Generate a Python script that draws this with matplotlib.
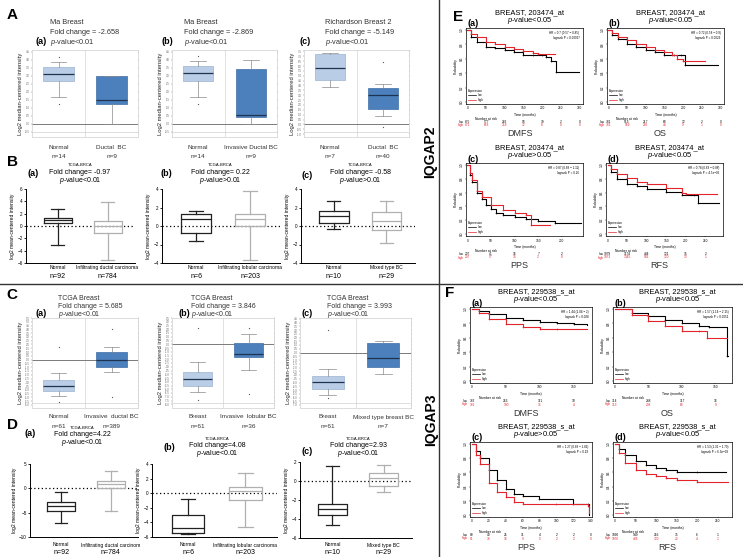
import matplotlib
matplotlib.use("Agg")
import matplotlib.pyplot as plt
from matplotlib.lines import Line2D
from matplotlib.transforms import blended_transform_factory

W, H = 743, 557

plt.rcParams['font.family'] = ['Liberation Sans', 'DejaVu Sans']
plt.rcParams['mathtext.fontset'] = 'custom'
plt.rcParams['mathtext.it'] = 'Liberation Sans:italic'
plt.rcParams['mathtext.rm'] = 'Liberation Sans'

# ---- box plot stats: [whisker low, q1, median, q3, whisker high] ----
# A (Oncomine)
A_a_normal = [1.63, 2.66, 3.08, 3.56, 3.87]
A_a_normal_out = [4.18, 1.25]
A_a_cancer = [-0.04, 1.25, 1.5, 2.97, 3.0]
A_a_cancer_out = []
A_b_normal = [1.67, 2.68, 3.14, 3.62, 3.93]
A_b_normal_out = [4.2, 1.25]
A_b_cancer = [-0.04, 0.38, 0.56, 3.39, 4.0]
A_b_cancer_out = []
A_c_normal = [3.8, 4.55, 5.76, 7.2, 7.3]
A_c_normal_out = []
A_c_cancer = [0.83, 1.62, 3.07, 3.69, 4.14]
A_c_cancer_out = [6.4, -0.28]

# B (TCGA-BRCA)
B_a_normal = [-3.1, 0.43, 0.92, 1.36, 2.7]
B_a_cancer = [-5.5, -1.2, 0.0, 0.82, 3.86]
B_b_normal = [-1.6, -0.72, 0.8, 1.3, 1.63]
B_b_cancer = [-3.7, -0.05, 0.76, 1.3, 3.73]
B_c_normal = [-0.28, 0.31, 1.04, 1.57, 2.68]
B_c_cancer = [-1.86, -0.48, 0.52, 1.48, 2.72]

# C (Oncomine)
C_a_normal = [-4.83, -4.13, -3.43, -2.7, -1.83]
C_a_normal_out = [1.65, -5.65]
C_a_cancer = [-1.65, -0.96, 0.0, 0.96, 1.7]
C_a_cancer_out = [4.04, -5.0]
C_b_normal = [-6.39, -5.52, -4.65, -3.65, -2.43]
C_b_normal_out = [2.17, -7.48]
C_b_cancer = [-3.48, -1.74, -1.26, 0.13, 1.43]
C_b_cancer_out = [2.17, -6.6]
C_c_normal = [-5.6, -4.87, -3.9, -3.13, -2.26]
C_c_normal_out = [2.96, -6.04]
C_c_cancer = [-2.9, -1.91, -0.74, 1.3, 1.5]
C_c_cancer_out = []

# D (TCGA-BRCA)
D_a_normal = [-7.03, -4.73, -3.65, -2.84, -0.74]
D_a_cancer = [-4.73, 0.0, 0.81, 1.49, 3.51]
D_b_normal = [-5.64, -5.5, -4.82, -2.98, -0.83]
D_b_cancer = [-4.68, -0.92, 0.3, 0.83, 2.75]
D_c_normal = [-4.65, -3.6, -2.9, -2.4, 1.6]
D_c_cancer = [-1.2, -0.52, 0.28, 0.8, 1.65]

# ---- Kaplan-Meier curves (time in months, survival probability) ----
E_a_low_t = [0, 10, 25, 50, 75, 100, 125, 150, 175, 200, 212, 225, 237, 300]
E_a_low_s = [1.0, 0.9, 0.83, 0.77, 0.75, 0.72, 0.70, 0.66, 0.66, 0.66, 0.62, 0.57, 0.42, 0.42]
E_a_high_t = [0, 10, 25, 50, 75, 100, 125, 150, 175, 190, 235]
E_a_high_s = [1.0, 0.95, 0.9, 0.84, 0.81, 0.77, 0.74, 0.71, 0.68, 0.67, 0.67]
E_b_low_t = [0, 10, 25, 50, 75, 100, 125, 150, 175, 195, 205, 295]
E_b_low_s = [1.0, 0.93, 0.87, 0.81, 0.76, 0.72, 0.69, 0.66, 0.65, 0.65, 0.52, 0.52]
E_b_high_t = [0, 10, 25, 50, 75, 100, 125, 150, 170, 185, 200, 260]
E_b_high_s = [1.0, 0.96, 0.91, 0.86, 0.81, 0.77, 0.73, 0.70, 0.66, 0.60, 0.57, 0.57]
E_c_low_t = [0, 5, 10, 20, 30, 40, 50, 60, 75, 100, 125, 150, 185, 240]
E_c_low_s = [1.0, 0.85, 0.75, 0.60, 0.50, 0.42, 0.36, 0.31, 0.27, 0.24, 0.22, 0.19, 0.16, 0.16]
E_c_high_t = [0, 5, 10, 20, 30, 50, 75, 100, 125, 135, 175]
E_c_high_s = [1.0, 0.88, 0.78, 0.63, 0.53, 0.42, 0.35, 0.31, 0.27, 0.13, 0.13]
E_d_low_t = [0, 10, 25, 50, 75, 100, 150, 190, 220, 230, 285]
E_d_low_s = [1.0, 0.9, 0.8, 0.73, 0.69, 0.65, 0.61, 0.57, 0.57, 0.45, 0.45]
E_d_high_t = [0, 10, 25, 50, 75, 100, 150, 190, 200, 280]
E_d_high_s = [1.0, 0.94, 0.87, 0.81, 0.76, 0.72, 0.66, 0.60, 0.58, 0.58]

F_a_low_t = [0, 10, 25, 50, 75, 100, 125, 150, 170]
F_a_low_s = [1.0, 0.97, 0.93, 0.88, 0.85, 0.82, 0.80, 0.79, 0.78]
F_a_high_t = [0, 10, 25, 50, 75, 100, 125, 170]
F_a_high_s = [1.0, 0.94, 0.86, 0.79, 0.75, 0.73, 0.72, 0.72]
F_b_low_t = [0, 25, 50, 75, 100, 125, 140, 167, 169]
F_b_low_s = [1.0, 0.95, 0.90, 0.85, 0.80, 0.77, 0.75, 0.35, 0.35]
F_b_high_t = [0, 25, 50, 75, 100, 125, 138, 168]
F_b_high_s = [1.0, 0.92, 0.84, 0.76, 0.70, 0.69, 0.60, 0.60]
F_c_low_t = [0, 5, 10, 20, 30, 40, 50, 60, 80, 120, 137, 138]
F_c_low_s = [1.0, 0.9, 0.8, 0.63, 0.50, 0.37, 0.30, 0.27, 0.23, 0.16, 0.16, 0.0]
F_c_high_t = [0, 5, 10, 20, 30, 40, 50, 60, 100, 137, 138]
F_c_high_s = [1.0, 0.85, 0.72, 0.45, 0.33, 0.25, 0.18, 0.15, 0.15, 0.13, 0.03]
F_d_low_t = [0, 10, 25, 50, 75, 100, 125, 150, 200, 270]
F_d_low_s = [1.0, 0.93, 0.84, 0.76, 0.70, 0.66, 0.63, 0.61, 0.60, 0.60]
F_d_high_t = [0, 10, 25, 50, 75, 100, 125, 150, 200, 275]
F_d_high_s = [1.0, 0.87, 0.74, 0.64, 0.58, 0.55, 0.52, 0.50, 0.47, 0.46]

# numbers at risk
E_a_risk_low = [875, 577, 282, 93, 19, 2, 0]
E_a_risk_high = [871, 663, 318, 72, 8, 0, 0]
E_b_risk_low = [781, 515, 217, 69, 12, 2, 0]
E_b_risk_high = [781, 569, 266, 43, 9, 1, 0]
E_c_risk_low = [207, 41, 16, 7, 2]
E_c_risk_high = [207, 57, 15, 2, 0]
E_d_risk_low = [1979, 1174, 484, 121, 15, 2]
E_d_risk_high = [1973, 1345, 581, 120, 13, 1]
F_a_risk_low = [332, 253, 111, 10]
F_a_risk_high = [332, 190, 76, 4]
F_b_risk_low = [314, 248, 117, 16]
F_b_risk_high = [313, 208, 64, 9]
F_c_risk_low = [80, 49, 25, 11, 4, 2, 2, 0]
F_c_risk_high = [81, 33, 16, 9, 5, 2, 2, 0]
F_d_risk_low = [1090, 549, 216, 35, 6, 1]
F_d_risk_high = [1076, 428, 120, 23, 4, 1]

fig = plt.figure(figsize=(7.43, 5.57), dpi=100)
fig.patch.set_facecolor('white')


def px_axes(box):
    x0, y0, x1, y1 = box
    return fig.add_axes([x0 / W, 1 - y1 / H, (x1 - x0) / W, (y1 - y0) / H])


def ftext(x, y, s, **kw):
    kw.setdefault('ha', 'center')
    kw.setdefault('va', 'center')
    fig.text(x / W, 1 - y / H, s, **kw)


def make_stats(vals, outs):
    return dict(whislo=vals[0], q1=vals[1], med=vals[2], q3=vals[3], whishi=vals[4], fliers=outs)


def oncomine_panel(box, normal, normal_out, cancer, cancer_out, ylim, yticks, xlabels, y_lab, y_n):
    ax = px_axes(box)
    stats = [make_stats(normal, normal_out), make_stats(cancer, cancer_out)]
    bp = ax.bxp(stats, positions=[1, 2], widths=0.58, capwidths=0.3, patch_artist=True,
                boxprops=dict(linewidth=0.5),
                medianprops=dict(color='#1d3350', linewidth=0.9),
                whiskerprops=dict(color='#8a8a8a', linewidth=0.5),
                capprops=dict(color='#8a8a8a', linewidth=0.5),
                flierprops=dict(marker='o', markersize=0.9, markerfacecolor='#555',
                                markeredgecolor='none'))
    bp['boxes'][0].set(facecolor='#b9cde6', edgecolor='#9db3cf')
    bp['boxes'][1].set(facecolor='#4c80bd', edgecolor='#3e6ea6')
    ax.axhline(0, color='#7a7a7a', lw=0.7, zorder=1)
    ax.axvline(1.5, color='#d5d5d5', lw=0.5, zorder=0)
    ax.axhline(ylim[0] + 0.06 * (ylim[1] - ylim[0]), color='#d0d0d0', lw=0.5, zorder=0)
    ax.set_xlim(0.5, 2.5)
    ax.set_ylim(ylim)
    ax.set_yticks(yticks)
    ax.set_yticklabels(['%.1f' % t for t in yticks])
    ax.tick_params(axis='y', labelsize=2.0, length=1, width=0.3, pad=0.8, colors='#666', right=True)
    ax.set_xticks([])
    for sp in ax.spines.values():
        sp.set_color('#cfcfcf')
        sp.set_linewidth(0.5)
    ax.set_ylabel('Log2 median-centered intensity', fontsize=4.2, labelpad=1.5, color='#222')
    tr = blended_transform_factory(ax.transData, fig.transFigure)
    for pos, lab in zip([1, 2], xlabels):
        ax.text(pos, 1 - y_lab / H, lab[0], transform=tr, ha='center', va='center', fontsize=4.6, color='#333')
        ax.text(pos, 1 - y_n / H, lab[1], transform=tr, ha='center', va='center', fontsize=4.6, color='#333')
    return ax


def graphpad_panel(box, normal, cancer, ylim, yticks, xlabels, y_lab, y_n):
    ax = px_axes(box)
    stats = [make_stats(normal, []), make_stats(cancer, [])]
    bp = ax.bxp(stats, positions=[1, 2], widths=0.56, capwidths=0.25, showfliers=False,
                boxprops=dict(linewidth=0.9), medianprops=dict(linewidth=0.9),
                whiskerprops=dict(linewidth=0.9), capprops=dict(linewidth=0.9))
    colors = ['#222222', '#b0b0b0']
    for i, c in enumerate(colors):
        bp['boxes'][i].set_color(c)
        bp['medians'][i].set_color(c)
        for k in (2 * i, 2 * i + 1):
            bp['whiskers'][k].set_color(c)
            bp['caps'][k].set_color(c)
    ax.axhline(0, color='k', lw=0.9, ls=(0, (1, 2)), zorder=0)
    ax.set_xlim(0.37, 2.55)
    ax.set_ylim(ylim)
    ax.set_yticks(yticks)
    ax.set_xticks([])
    ax.spines['top'].set_visible(False)
    ax.spines['right'].set_visible(False)
    ax.spines['left'].set_linewidth(0.7)
    ax.spines['bottom'].set_linewidth(0.7)
    ax.tick_params(axis='y', labelsize=3.3, length=1.5, width=0.6, pad=0.8)
    ax.set_ylabel('log2 mean-centered intensity', fontsize=3.6, labelpad=1.5)
    tr = blended_transform_factory(ax.transData, fig.transFigure)
    for pos, lab in zip([1, 2], xlabels):
        ax.text(pos, 1 - y_lab / H, lab[0], transform=tr, ha='center', va='center', fontsize=3.6)
        ax.text(pos, 1 - y_n / H, lab[1], transform=tr, ha='center', va='center', fontsize=5)
    return ax


def km_panel(box, low, high, xlim, xticks, risk_low, risk_high, hr_text, name, title, ptext, letter):
    ax = px_axes(box)
    for (t, s), col in zip([low, high], ['black', '#e3242b']):
        ax.step(t, s, where='post', color=col, lw=0.8)
        ax.plot(t[1:-1], s[1:-1], ls='none', marker='+', markersize=1.6, mew=0.4, color=col)
    ax.set_xlim(xlim)
    ax.set_ylim(-0.03, 1.03)
    ax.set_xticks(xticks)
    ax.set_yticks([0, 0.2, 0.4, 0.6, 0.8, 1.0])
    ax.set_yticklabels(['0.0', '0.2', '0.4', '0.6', '0.8', '1.0'], rotation=90, va='center')
    ax.tick_params(labelsize=2.3, length=1, width=0.3, pad=0.8)
    for sp in ax.spines.values():
        sp.set_linewidth(0.5)
    ax.set_ylabel('Probability', fontsize=2.4, labelpad=1.5)
    ax.text(0.97, 0.96, hr_text, transform=ax.transAxes, ha='right', va='top', fontsize=2.2, linespacing=1.2)
    leg = ax.legend(handles=[Line2D([], [], color='black', lw=0.5), Line2D([], [], color='#e3242b', lw=0.5)],
                    labels=['low', 'high'], title='Expression', loc='lower left', fontsize=2.2,
                    title_fontsize=2.2, frameon=False, handlelength=2.5, borderaxespad=0.3,
                    labelspacing=0.2)
    leg._legend_box.align = 'left'
    x0, y0, x1, y1 = box
    tr = blended_transform_factory(ax.transData, fig.transFigure)
    ftext((x0 + x1) / 2, y1 + 11, 'Time (months)', fontsize=2.4)
    ftext(x0 + 20, y1 + 15, 'Number at risk', fontsize=2.4)
    ftext(x0 - 2, y1 + 18, 'low', fontsize=2.3, ha='right')
    ftext(x0 - 2, y1 + 21.5, 'high', fontsize=2.3, ha='right', color='#e3242b')
    for xv, a, b in zip(xticks, risk_low, risk_high):
        ax.text(xv, 1 - (y1 + 18) / H, str(a), transform=tr, ha='center', va='center', fontsize=2.3)
        ax.text(xv, 1 - (y1 + 21.5) / H, str(b), transform=tr, ha='center', va='center', fontsize=2.3,
                color='#e3242b')
    ftext((x0 + x1) / 2 - 5, y1 + 30, name, fontsize=6.5, color='#333')
    ftext((x0 + x1) / 2 + 5, y0 - 15.5, title, fontsize=5.4)
    ftext((x0 + x1) / 2 + 5, y0 - 7.5, ptext, fontsize=5.4)
    ftext(x0 + 7, y0 - 4, letter, fontsize=6.5, fontweight='bold')
    return ax


# ---------------- A ----------------
ftext(12, 15, 'A', fontsize=11, fontweight='bold')
A_title_x = [50, 184, 325]
A_letter_x = [41, 167, 305]
A_names = ['Ma Breast', 'Ma Breast', 'Richardson Breast 2']
A_fc = ['-2.658', '-2.869', '-5.149']
for i in range(3):
    ftext(A_letter_x[i], 42, '(%s)' % 'abc'[i], fontsize=6.5, fontweight='bold')
    ftext(A_title_x[i], 22, A_names[i], fontsize=5.3, ha='left', color='#333')
    ftext(A_title_x[i], 32, 'Fold change = ' + A_fc[i], fontsize=5.3, ha='left', color='#333')
    ftext(A_title_x[i], 42, '$p$-value<0.01', fontsize=5.3, ha='left', color='#333')

A_ticks_ab = [-0.5 + 0.5 * k for k in range(11)]
A_ticks_c = [-1.0 + 0.5 * k for k in range(18)]
oncomine_panel((32, 50, 138, 137), A_a_normal, A_a_normal_out, A_a_cancer, A_a_cancer_out,
               (-0.84, 4.6), A_ticks_ab, [('Normal', 'n=14'), ('Ductal  BC', 'n=9')], 148, 157)
oncomine_panel((172, 50, 277, 137), A_b_normal, A_b_normal_out, A_b_cancer, A_b_cancer_out,
               (-0.84, 4.6), A_ticks_ab, [('Normal', 'n=14'), ('Invasive Ductal BC', 'n=9')], 148, 157)
oncomine_panel((304, 50, 409, 137), A_c_normal, A_c_normal_out, A_c_cancer, A_c_cancer_out,
               (-1.3, 7.65), A_ticks_c, [('Normal', 'n=7'), ('Ductal  BC', 'n=40')], 148, 157)

# ---------------- B ----------------
ftext(12, 162, 'B', fontsize=11, fontweight='bold')
B_center = [80, 220, 360]
B_letter = [(33, 173), (166, 173), (307, 176)]
B_fc = ['-0.97', '0.22', '-0.58']
B_p = ['<0.01', '>0.01', '>0.01']
for i in range(3):
    ftext(B_letter[i][0], B_letter[i][1], '(%s)' % 'abc'[i], fontsize=6.5, fontweight='bold')
    ftext(B_center[i], 165, 'TCGA-BRCA', fontsize=3.0)
    ftext(B_center[i], 172, 'Fold change= ' + B_fc[i], fontsize=5.0)
    ftext(B_center[i], 180, '$p$-value' + B_p[i], fontsize=5.0)

graphpad_panel((26, 189, 135, 263), B_a_normal, B_a_cancer, (-6, 6), [-6, -4, -2, 0, 2, 4, 6],
               [('Normal', 'n=92'), ('Infiltrating ductal carcinoma', 'n=784')], 267, 277)
graphpad_panel((162, 189, 280, 263), B_b_normal, B_b_cancer, (-4, 4), [-4, -2, 0, 2, 4],
               [('Normal', 'n=6'), ('Infiltrating lobular carcinoma', 'n=203')], 267, 277)
graphpad_panel((301, 189, 415, 263), B_c_normal, B_c_cancer, (-4, 4), [-4, -2, 0, 2, 4],
               [('Normal', 'n=10'), ('Mixed type BC', 'n=29')], 267, 277)

# ---------------- C ----------------
ftext(12, 295, 'C', fontsize=11, fontweight='bold')
C_title_x = [58, 191, 327]
C_letter_x = [41, 184, 307]
C_fc = ['5.685', '3.846', '3.993']
for i in range(3):
    ftext(C_letter_x[i], 313, '(%s)' % 'abc'[i], fontsize=6.5, fontweight='bold')
    ftext(C_title_x[i], 298, 'TCGA Breast', fontsize=5.0, ha='left', color='#333')
    ftext(C_title_x[i], 306, 'Fold change = ' + C_fc[i], fontsize=5.0, ha='left', color='#333')
    ftext(C_title_x[i], 314, '$p$-value<0.01', fontsize=5.0, ha='left', color='#333')

oncomine_panel((32, 318, 138, 408), C_a_normal, C_a_normal_out, C_a_cancer, C_a_cancer_out,
               (-6.4, 5.5), [-6.0 + 0.5 * k for k in range(24)],
               [('Normal', 'n=61'), ('Invasive  ductal BC', 'n=389')], 417, 426)
oncomine_panel((172, 318, 274, 408), C_b_normal, C_b_normal_out, C_b_cancer, C_b_cancer_out,
               (-8.5, 3.5), [-8.0 + 0.5 * k for k in range(24)],
               [('Breast', 'n=61'), ('Invasive  lobular BC', 'n=36')], 417, 426)
oncomine_panel((300, 318, 411, 408), C_c_normal, C_c_normal_out, C_c_cancer, C_c_cancer_out,
               (-7.4, 4.6), [-7.0 + 0.5 * k for k in range(24)],
               [('Breast', 'n=61'), ('Mixed type breast BC', 'n=7')], 417, 426)

# ---------------- D ----------------
ftext(12, 425, 'D', fontsize=11, fontweight='bold')
D_center = [82, 217, 358]
D_rows = [(428, 435, 443), (439, 445.5, 453.5), (439, 445.5, 453.5)]
D_letter = [(30, 434), (169, 447), (307, 452)]
D_fc = ['4.22', '4.08', '2.93']
for i in range(3):
    ftext(D_letter[i][0], D_letter[i][1], '(%s)' % 'abc'[i], fontsize=6.5, fontweight='bold')
    ftext(D_center[i], D_rows[i][0], 'TCGA-BRCA', fontsize=3.0)
    ftext(D_center[i], D_rows[i][1], 'Fold change=' + D_fc[i], fontsize=5.0)
    ftext(D_center[i], D_rows[i][2], '$p$-value<0.01', fontsize=5.0)

graphpad_panel((30, 464, 138, 537), D_a_normal, D_a_cancer, (-10, 5), [-10, -5, 0, 5],
               [('Normal', 'n=92'), ('Infiltrating ductal carcinom', 'n=784')], 545, 553)
graphpad_panel((152, 464, 277, 537), D_b_normal, D_b_cancer, (-6, 4), [-6, -4, -2, 0, 2, 4],
               [('Normal', 'n=6'), ('Infiltrating lobular carcinoma', 'n=203')], 545, 553)
graphpad_panel((300, 462, 412, 538), D_c_normal, D_c_cancer, (-6, 2), [-6, -4, -2, 0, 2],
               [('Normal', 'n=10'), ('Mixed type BC', 'n=29')], 545, 553)

# ---------------- E ----------------
ftext(458, 17, 'E', fontsize=11, fontweight='bold')
E_title = 'BREAST, 203474_at'
km_panel((466, 28, 583, 104), (E_a_low_t, E_a_low_s), (E_a_high_t, E_a_high_s), (-4, 310),
         [0, 50, 100, 150, 200, 250, 300], E_a_risk_low, E_a_risk_high,
         'HR = 0.7 (0.57 \u2212 0.85)\nlogrank P = 0.00027', 'DMFS', E_title, '$p$-value<0.05', '(a)')
km_panel((607, 28, 724, 104), (E_b_low_t, E_b_low_s), (E_b_high_t, E_b_high_s), (-4, 310),
         [0, 50, 100, 150, 200, 250, 300], E_b_risk_low, E_b_risk_high,
         'HR = 0.72 (0.58 \u2212 0.9)\nlogrank P = 0.0029', 'OS', E_title, '$p$-value<0.05', '(b)')
km_panel((466, 163, 583, 236), (E_c_low_t, E_c_low_s), (E_c_high_t, E_c_high_s), (-3, 245),
         [0, 50, 100, 150, 200], E_c_risk_low, E_c_risk_high,
         'HR = 0.87 (0.68 \u2212 1.11)\nlogrank P = 0.26', 'PPS', E_title, '$p$-value>0.05', '(c)')
km_panel((606, 163, 723, 236), (E_d_low_t, E_d_low_s), (E_d_high_t, E_d_high_s), (-4, 295),
         [0, 50, 100, 150, 200, 250], E_d_risk_low, E_d_risk_high,
         'HR = 0.78 (0.69 \u2212 0.88)\nlogrank P = 4.5e\u221205', 'RFS', E_title, '$p$-value<0.05', '(d)')

# ---------------- F ----------------
ftext(450, 293, 'F', fontsize=11, fontweight='bold')
F_title = 'BREAST, 229538_s_at'
km_panel((470, 307, 592, 383), (F_a_low_t, F_a_low_s), (F_a_high_t, F_a_high_s), (-3, 177),
         [0, 50, 100, 150], F_a_risk_low, F_a_risk_high,
         'HR = 1.44 (1.04 \u2212 2)\nlogrank P = 0.028', 'DMFS', F_title, '$p$-value<0.05', '(a)')
km_panel((613, 307, 732, 383), (F_b_low_t, F_b_low_s), (F_b_high_t, F_b_high_s), (-3, 175),
         [0, 50, 100, 150], F_b_risk_low, F_b_risk_high,
         'HR = 1.57 (1.14 \u2212 2.15)\nlogrank P = 0.0051', 'OS', F_title, '$p$-value<0.05', '(b)')
km_panel((470, 442, 592, 517), (F_c_low_t, F_c_low_s), (F_c_high_t, F_c_high_s), (-2, 142),
         [0, 20, 40, 60, 80, 100, 120, 140], F_c_risk_low, F_c_risk_high,
         'HR = 1.27 (0.89 \u2212 1.81)\nlogrank P = 0.19', 'PPS', F_title, '$p$-value>0.05', '(c)')
km_panel((613, 442, 732, 517), (F_d_low_t, F_d_low_s), (F_d_high_t, F_d_high_s), (-5, 285),
         [0, 50, 100, 150, 200, 250], F_d_risk_low, F_d_risk_high,
         'HR = 1.53 (1.31 \u2212 1.79)\nlogrank P = 6.3e\u221208', 'RFS', F_title, '$p$-value<0.05', '(d)')

# gene labels and dividers
ftext(430, 152, 'IQGAP2', fontsize=10, fontweight='bold', rotation=90)
ftext(431, 420, 'IQGAP3', fontsize=10, fontweight='bold', rotation=90)
fig.add_artist(Line2D([439 / W, 439 / W], [0, 1], transform=fig.transFigure, color='#333', lw=1.0))
fig.add_artist(Line2D([0, 1], [1 - 284 / H, 1 - 284 / H], transform=fig.transFigure, color='#333', lw=1.0))

fig.savefig('out.png', dpi=100)
